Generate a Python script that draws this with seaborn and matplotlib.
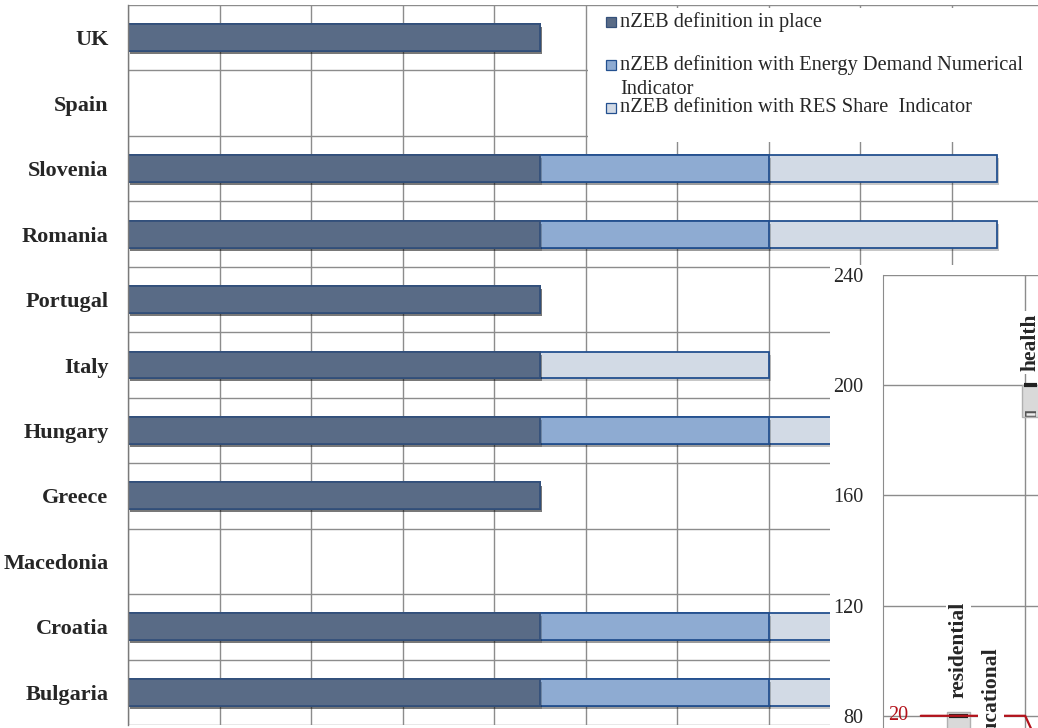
import matplotlib
matplotlib.use("Agg")
import matplotlib.pyplot as plt
import matplotlib.patheffects as pe
from matplotlib.patches import Rectangle
import numpy as np
import pandas as pd
import seaborn as sns

# ---- nZEB definition status per country ----
countries = ["UK", "Spain", "Slovenia", "Romania", "Portugal", "Italy",
             "Hungary", "Greece", "Macedonia", "Croatia", "Bulgaria"]
in_place = [4.5, 0, 4.5, 4.5, 4.5, 4.5, 4.5, 4.5, 0, 4.5, 4.5]
energy_demand = [0, 0, 2.5, 2.5, 0, 0, 2.5, 0, 0, 2.5, 2.5]
res_share = [0, 0, 2.5, 2.5, 0, 2.5, 2.5, 0, 0, 2.5, 2.5]

series_labels = ["nZEB definition in place",
                 "nZEB definition with Energy Demand Numerical\nIndicator",
                 "nZEB definition with RES Share  Indicator"]
series_colors = ["#596b86", "#8eabd2", "#d2dae5"]
series_edges = ["#34507a", "#23508f", "#23508f"]

# ---- building use panel ----
use_types = ["residential", "educational", "health"]
use_pos = [2.1, 3.0, 4.1]
box_low = [70, 40, 188.5]
box_high = [81.5, 61, 200]
box_mark = [80, 55, 200]
tail_mark = [72, 45, 189.6]
box_width = [0.64, 0.55, 0.47]
ref_x = [1.05, 3.95, 4.3]
ref_y = [80, 80, 70]
ref_label = "20"

W, H = 1038, 728
sns.set_style("white")
plt.rcParams["font.family"] = ["Liberation Serif", "DejaVu Serif"]

fig = plt.figure(figsize=(W / 100, H / 100), dpi=100)
ax = fig.add_axes([128 / W, 3 / H, 915 / W, 720 / H])

df = pd.DataFrame({"country": countries, "a": in_place,
                   "b": energy_demand, "c": res_share})
df["cum1"] = df["a"]
df["cum2"] = df["a"] + df["b"]
df["cum3"] = df["cum2"] + df["c"]

grid_c = "#8c8c8c"
shadow = [pe.SimplePatchShadow(offset=(1.5, -2.2), shadow_rgbFace="#000000", alpha=0.22),
          pe.Normal()]

# stacked bars drawn as cumulative layers, longest first
for col, fc, ec in zip(["cum3", "cum2", "cum1"], series_colors[::-1], series_edges[::-1]):
    n_before = len(ax.patches)
    sns.barplot(data=df, y="country", x=col, order=countries, orient="h",
                color=fc, saturation=1, width=0.41, edgecolor=ec,
                linewidth=1.3, errorbar=None, ax=ax, zorder=2)
    for p in ax.patches[n_before:]:
        if p.get_width() <= 0:
            p.set_visible(False)
        else:
            p.set_path_effects(shadow)

ax.set_xlim(0, 10)
ax.set_ylim(len(countries) - 0.5, -0.5)
ax.set_xticks(np.arange(0, 11))
ax.set_xticklabels([])
ax.set_yticks(np.arange(-0.5, len(countries), 1), minor=True)
ax.tick_params(axis="x", length=0)
ax.tick_params(axis="y", which="major", length=0, pad=14, labelsize=16)
ax.tick_params(axis="y", which="minor", length=6, width=1, color=grid_c)
for lbl in ax.get_yticklabels():
    lbl.set_fontweight("bold")
ax.grid(which="major", axis="x", color=grid_c, lw=1)
ax.grid(which="minor", axis="y", color=grid_c, lw=1)
ax.set_axisbelow(True)
ax.set_xlabel("")
ax.set_ylabel("")
for s in ["top", "right", "bottom"]:
    ax.spines[s].set_visible(False)
ax.spines["left"].set_color("#7a7a7a")
ax.spines["left"].set_linewidth(1)

# ---- legend box ----
lax = fig.add_axes([588 / W, 1 - 142 / H, (W - 588) / W, (142 - 8) / H])
lax.set_zorder(3)
lax.set_facecolor("white")
lax.set_xlim(588, W)
lax.set_ylim(142, 8)
lax.set_xticks([])
lax.set_yticks([])
for s in lax.spines.values():
    s.set_visible(False)
row_y = [22, 65, 108]
for y, lab, fc, ec in zip(row_y, series_labels, series_colors, series_edges):
    lax.add_patch(Rectangle((606, y - 5), 10, 10, facecolor=fc, edgecolor=ec, lw=0.9))
    for j, line in enumerate(lab.split("\n")):
        lax.text(620, y + 25 * j, line, fontsize=14.7, va="center", ha="left")

# ---- building use panel ----
cover = fig.add_axes([830 / W, 0, (W - 830) / W, (728 - 265) / H])
cover.set_zorder(4)
cover.set_facecolor("white")
cover.set_xticks([])
cover.set_yticks([])
for s in cover.spines.values():
    s.set_visible(False)

iax = fig.add_axes([883 / W, 1 - 826 / H, 217 / W, 551 / H])
iax.set_zorder(5)
iax.set_facecolor("white")
iax.set_xlim(0, 217 / 36)
iax.set_ylim(40, 240)
iax.set_yticks(np.arange(40, 241, 40))
iax.set_xticks([3.95])
iax.set_xticklabels([])
iax.tick_params(axis="x", length=0)
iax.tick_params(axis="y", length=5, width=1, color=grid_c, pad=9, labelsize=14.5)
iax.grid(axis="both", color=grid_c, lw=1)
iax.set_axisbelow(True)
for s in ["top", "right", "bottom"]:
    iax.spines[s].set_visible(False)
iax.spines["left"].set_color(grid_c)

heights = [h - l for h, l in zip(box_high, box_low)]
iax.bar(use_pos, heights, bottom=box_low, width=box_width,
        color="#d9d9d9", edgecolor="#b0b0b0", lw=1, zorder=3)
for x, m, t, w in zip(use_pos, box_mark, tail_mark, box_width):
    iax.hlines(m, x - w / 2 + 0.05, x + w / 2 - 0.05, color="#222222", lw=3, zorder=4)
    iax.hlines(t, x - w / 2 + 0.08, x + w / 2 - 0.08, color="#555555", lw=4, zorder=4)
    iax.hlines(t, x - w / 2 + 0.11, x + w / 2 - 0.11, color="#eeeeee", lw=1.8, zorder=4)
iax.plot(ref_x, ref_y, color="#b3121b", lw=1.6, zorder=5)
iax.text(0.15, ref_y[0], ref_label, color="#b3121b", fontsize=14.5,
         va="center", ha="left", zorder=6)
for x, top, name in zip(use_pos, box_high, use_types):
    iax.text(x, top + 5, name, rotation=90, ha="center", va="bottom",
             fontsize=15.5, fontweight="bold", zorder=7,
             bbox=dict(facecolor="white", edgecolor="none", pad=2))

fig.savefig("out.png", dpi=100)
